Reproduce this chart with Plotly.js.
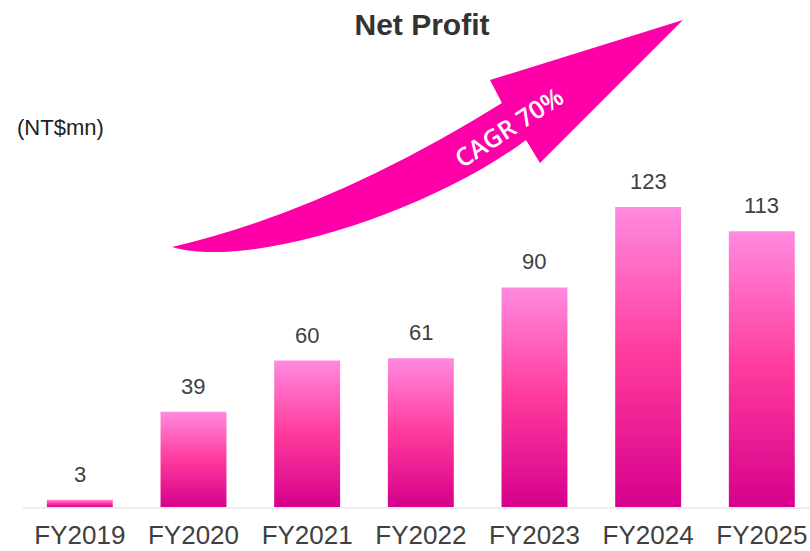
<!DOCTYPE html>
<html>
<head>
<meta charset="utf-8">
<script src="https://cdn.plot.ly/plotly-3.0.1.min.js"></script>
<style>
  html, body { margin: 0; padding: 0; background: #fff; }
  #chart { width: 810px; height: 551px; }
</style>
</head>
<body>
<div id="chart"></div>
<script>
// net profit by fiscal year, NT$mn
var years = ["FY2019", "FY2020", "FY2021", "FY2022", "FY2023", "FY2024", "FY2025"];
var profit = [3, 39, 60, 61, 90, 123, 113];
var cagr_label = "CAGR 70%";

// plot area in pixels, used to place the arrow decoration
var L = 23, R = 810, T = 60, B = 507;
function px(x){ return ((x - L) / (R - L)).toFixed(4); }
function py(y){ return ((B - y) / (B - T)).toFixed(4); }

function arrow_path(){
    return "M" + px(172) + "," + py(247) +
        " Q" + px(330) + "," + py(210) + " " + px(502) + "," + py(103) +
        " L" + px(490) + "," + py(80) +
        " L" + px(683) + "," + py(20) +
        " L" + px(540) + "," + py(163) +
        " L" + px(526) + "," + py(140) +
        " C" + px(430) + "," + py(212) + " " + px(250) + "," + py(270) + " " + px(172) + "," + py(247) +
        " Z";
}

function net_profit_chart(divid){
    var trace = {
        x: years,
        y: profit,
        type: "bar",
        marker: {color: "#FF3A9C"},
        hoverinfo: "x+y"
    };

    var annotations = years.map(function(yr, i){
        return {
            x: yr, y: profit[i], xref: "x", yref: "y",
            text: String(profit[i]), showarrow: false,
            yanchor: "bottom", yshift: 11,
            font: {family: "Liberation Sans, Arial, sans-serif", size: 22, color: "#404040"}
        };
    });
    annotations.push({
        xref: "paper", yref: "paper", x: px(15), y: py(128),
        xanchor: "left", yanchor: "middle",
        text: "(NT$mn)", showarrow: false,
        font: {family: "Liberation Sans, Arial, sans-serif", size: 22, color: "#222222"}
    });
    annotations.push({
        xref: "paper", yref: "paper", x: px(508), y: py(127),
        xanchor: "center", yanchor: "middle",
        text: cagr_label, showarrow: false, textangle: -33,
        font: {family: "Open Sans, sans-serif", size: 25, color: "#ffffff", weight: 600}
    });

    var layout = {
        width: 810,
        height: 551,
        margin: {l: L, r: 810 - R, t: T, b: 551 - B},
        paper_bgcolor: "#ffffff",
        plot_bgcolor: "#ffffff",
        showlegend: false,
        bargap: 0.42,
        title: {
            text: "<b>Net Profit</b>",
            x: 0.521, xref: "container", xanchor: "center",
            y: 0.956, yref: "container", yanchor: "middle",
            font: {family: "Liberation Sans, Arial, sans-serif", size: 30, color: "#333333"}
        },
        xaxis: {
            type: "category",
            range: [-0.5, 6.424],
            showline: true, linecolor: "#EDEDED", linewidth: 1.5,
            showgrid: false, zeroline: false, ticks: "",
            ticklabelstandoff: 4,
            tickfont: {family: "Liberation Sans, Arial, sans-serif", size: 26, color: "#404040"},
            fixedrange: true
        },
        yaxis: {
            range: [0, 183.2],
            visible: false, showgrid: false, zeroline: false,
            fixedrange: true
        },
        shapes: [{
            type: "path", xref: "paper", yref: "paper",
            path: arrow_path(),
            fillcolor: "#FF00A8", line: {width: 0},
            layer: "below"
        }],
        annotations: annotations
    };

    Plotly.newPlot(divid, [trace], layout, {displayModeBar: false, staticPlot: true}).then(function(gd){
        // vertical gradient on the bars, light pink at top to magenta at the base
        var svg = gd.querySelector("svg.main-svg");
        var ns = "http://www.w3.org/2000/svg";
        var defs = svg.querySelector("defs");
        var grad = document.createElementNS(ns, "linearGradient");
        grad.setAttribute("id", "barGrad");
        grad.setAttribute("x1", "0"); grad.setAttribute("y1", "0");
        grad.setAttribute("x2", "0"); grad.setAttribute("y2", "1");
        [["0%", "#FF8ADF"], ["50%", "#FF3A9C"], ["100%", "#D5008C"]].forEach(function(s){
            var st = document.createElementNS(ns, "stop");
            st.setAttribute("offset", s[0]);
            st.setAttribute("stop-color", s[1]);
            grad.appendChild(st);
        });
        defs.appendChild(grad);
        gd.querySelectorAll(".bars .point path").forEach(function(p){
            p.style.fill = "url(#barGrad)";
        });
    });
}

net_profit_chart("chart");
</script>
</body>
</html>
